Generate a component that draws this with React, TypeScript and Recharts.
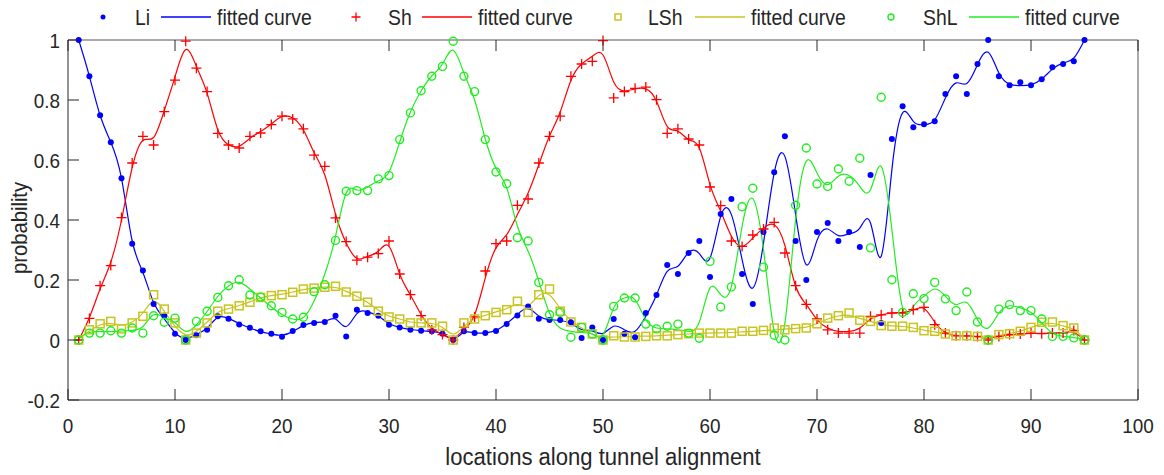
import { ComposedChart, Line, Scatter, XAxis, YAxis, Legend } from 'recharts'

// sampling positions along the tunnel (1..95)
const locations = Array.from({ length: 95 }, (_, i) => i + 1)

// observed probabilities per rock class
const li = [
  1.0, 0.879, 0.749, 0.659, 0.539, 0.321, 0.232, 0.12, 0.081, 0.021,
  0, 0.016, 0.034, 0.079, 0.071, 0.052, 0.041, 0.029, 0.021, 0.011,
  0.03, 0.05, 0.057, 0.06, 0.081, 0.012, 0.101, 0.09, 0.081, 0.051,
  0.042, 0.034, 0.031, 0.029, 0.021, 0, 0.029, 0.023, 0.023, 0.03,
  0.053, 0.082, 0.112, 0.071, 0.067, 0.067, 0.059, 0.007, 0.042, 0,
  0.07, 0.021, 0.009, 0.09, 0.15, 0.25, 0.22, 0.29, 0.33, 0.21,
  0.42, 0.47, 0.22, 0.12, 0.36, 0.559, 0.679, 0.33, 0.2, 0.36,
  0.39, 0.33, 0.36, 0.31, 0.55, 0.057, 0.67, 0.779, 0.709, 0.719,
  0.729, 0.82, 0.879, 0.82, 0.92, 1.0, 0.879, 0.849, 0.859, 0.849,
  0.869, 0.909, 0.92, 0.929, 1.0,
]
const sh = [
  0, 0.072, 0.181, 0.248, 0.408, 0.59, 0.679, 0.65, 0.761, 0.866,
  0.996, 0.906, 0.828, 0.689, 0.65, 0.64, 0.679, 0.69, 0.718, 0.746,
  0.737, 0.704, 0.616, 0.579, 0.407, 0.328, 0.266, 0.276, 0.288, 0.33,
  0.22, 0.151, 0.081, 0.034, 0.018, 0, 0.042, 0.077, 0.23, 0.321,
  0.33, 0.449, 0.47, 0.59, 0.679, 0.746, 0.879, 0.92, 0.929, 0.998,
  0.807, 0.828, 0.839, 0.843, 0.801, 0.689, 0.704, 0.67, 0.65, 0.51,
  0.448, 0.33, 0.312, 0.35, 0.37, 0.392, 0.29, 0.181, 0.119, 0.07,
  0.034, 0.023, 0.023, 0.023, 0.079, 0.084, 0.09, 0.09, 0.101, 0.109,
  0.051, 0.023, 0.014, 0.014, 0.012, 0, 0.012, 0.018, 0.02, 0.023,
  0.021, 0.023, 0.023, 0.032, 0,
]
const lsh = [
  0, 0.034, 0.054, 0.062, 0.037, 0.057, 0.079, 0.151, 0.103, 0.057,
  0, 0.023, 0.057, 0.096, 0.103, 0.114, 0.126, 0.142, 0.148, 0.151,
  0.159, 0.17, 0.173, 0.176, 0.179, 0.16, 0.146, 0.126, 0.096, 0.077,
  0.07, 0.057, 0.057, 0.057, 0.046, 0, 0.057, 0.07, 0.081, 0.092,
  0.101, 0.129, 0.092, 0.151, 0.17, 0.096, 0.06, 0.042, 0.02, 0,
  0.014, 0.01, 0.01, 0.012, 0.014, 0.014, 0.018, 0.021, 0.023, 0.023,
  0.023, 0.023, 0.029, 0.029, 0.032, 0.04, 0.034, 0.038, 0.04, 0.054,
  0.073, 0.081, 0.09, 0.066, 0.062, 0.048, 0.046, 0.046, 0.042, 0.031,
  0.029, 0.02, 0.014, 0.014, 0.012, 0, 0.018, 0.021, 0.029, 0.042,
  0.059, 0.06, 0.048, 0.04, 0,
]
const shl = [
  0, 0.023, 0.023, 0.031, 0.023, 0.04, 0.023, 0.081, 0.059, 0.073,
  0, 0.062, 0.096, 0.142, 0.181, 0.201, 0.15, 0.143, 0.114, 0.092,
  0.07, 0.076, 0.161, 0.184, 0.332, 0.496, 0.498, 0.498, 0.537, 0.548,
  0.668, 0.757, 0.831, 0.879, 0.912, 0.996, 0.879, 0.828, 0.668, 0.56,
  0.521, 0.341, 0.33, 0.192, 0.084, 0.092, 0.009, 0.042, 0.02, 0,
  0.112, 0.14, 0.14, 0.053, 0.037, 0.046, 0.053, 0.023, 0.006, 0.262,
  0.11, 0.177, 0.444, 0.506, 0.243, 0.016, 0, 0.449, 0.64, 0.52,
  0.512, 0.57, 0.529, 0.606, 0.307, 0.809, 0.201, 0.092, 0.154, 0.138,
  0.192, 0.137, 0.098, 0.16, 0.06, 0, 0.103, 0.118, 0.098, 0.098,
  0.07, 0.012, 0.012, 0.007, 0,
]

// smoothed curves at the same positions
const liFit = [
  1.0, 0.879, 0.749, 0.659, 0.539, 0.33, 0.225, 0.125, 0.07, 0.025,
  0.005, 0.018, 0.04, 0.075, 0.072, 0.055, 0.04, 0.028, 0.02, 0.016,
  0.028, 0.048, 0.058, 0.062, 0.07, 0.045, 0.088, 0.094, 0.08, 0.055,
  0.042, 0.035, 0.031, 0.028, 0.02, 0.004, 0.025, 0.024, 0.024, 0.032,
  0.055, 0.085, 0.105, 0.08, 0.068, 0.065, 0.055, 0.035, 0.03, 0.022,
  0.046, 0.034, 0.029, 0.079, 0.15, 0.229, 0.246, 0.292, 0.288, 0.273,
  0.412, 0.418, 0.268, 0.173, 0.323, 0.557, 0.612, 0.418, 0.251, 0.332,
  0.37, 0.348, 0.354, 0.373, 0.39, 0.279, 0.568, 0.757, 0.729, 0.718,
  0.734, 0.807, 0.857, 0.855, 0.918, 0.959, 0.89, 0.853, 0.848, 0.851,
  0.87, 0.903, 0.923, 0.94, 1.0,
]
const shFit = [
  0, 0.075, 0.17, 0.26, 0.4, 0.575, 0.665, 0.675, 0.765, 0.877,
  0.968, 0.912, 0.823, 0.701, 0.651, 0.646, 0.672, 0.695, 0.72, 0.745,
  0.74, 0.7, 0.625, 0.55, 0.42, 0.323, 0.272, 0.278, 0.296, 0.312,
  0.22, 0.15, 0.085, 0.04, 0.018, 0.007, 0.034, 0.084, 0.207, 0.307,
  0.351, 0.418, 0.49, 0.584, 0.68, 0.76, 0.865, 0.92, 0.946, 0.95,
  0.86, 0.83, 0.837, 0.837, 0.796, 0.712, 0.696, 0.668, 0.64, 0.518,
  0.429, 0.346, 0.312, 0.34, 0.373, 0.384, 0.315, 0.179, 0.118, 0.068,
  0.04, 0.029, 0.029, 0.04, 0.07, 0.084, 0.09, 0.092, 0.1, 0.105,
  0.06, 0.025, 0.015, 0.013, 0.01, 0.006, 0.012, 0.017, 0.02, 0.022,
  0.022, 0.023, 0.025, 0.025, 0,
]
const lshFit = [
  0.005, 0.03, 0.05, 0.055, 0.05, 0.06, 0.09, 0.129, 0.096, 0.046,
  0.018, 0.029, 0.06, 0.092, 0.105, 0.115, 0.127, 0.14, 0.148, 0.153,
  0.16, 0.168, 0.173, 0.176, 0.175, 0.162, 0.145, 0.125, 0.1, 0.08,
  0.07, 0.06, 0.057, 0.055, 0.042, 0.02, 0.045, 0.07, 0.082, 0.094,
  0.105, 0.118, 0.115, 0.148, 0.15, 0.105, 0.065, 0.04, 0.02, 0.01,
  0.01, 0.011, 0.012, 0.013, 0.014, 0.016, 0.018, 0.02, 0.022, 0.023,
  0.024, 0.025, 0.027, 0.029, 0.031, 0.034, 0.036, 0.039, 0.043, 0.055,
  0.07, 0.08, 0.082, 0.072, 0.062, 0.052, 0.047, 0.045, 0.04, 0.033,
  0.027, 0.02, 0.015, 0.013, 0.01, 0.008, 0.015, 0.022, 0.03, 0.042,
  0.052, 0.055, 0.047, 0.035, 0.005,
]
const shlFit = [
  0.005, 0.025, 0.028, 0.028, 0.03, 0.032, 0.045, 0.084, 0.075, 0.057,
  0.029, 0.05, 0.095, 0.145, 0.18, 0.192, 0.17, 0.14, 0.11, 0.085,
  0.07, 0.075, 0.13, 0.22, 0.345, 0.49, 0.5, 0.51, 0.53, 0.56,
  0.66, 0.76, 0.83, 0.88, 0.92, 0.966, 0.89, 0.8, 0.67, 0.573,
  0.507, 0.379, 0.296, 0.196, 0.09, 0.04, 0.029, 0.025, 0.02, 0.018,
  0.107, 0.14, 0.134, 0.068, 0.04, 0.037, 0.034, 0.029, 0.06, 0.173,
  0.151, 0.179, 0.379, 0.471, 0.301, 0.029, 0.057, 0.401, 0.596, 0.557,
  0.518, 0.546, 0.548, 0.512, 0.501, 0.579, 0.368, 0.107, 0.112, 0.146,
  0.17, 0.146, 0.118, 0.125, 0.068, 0.04, 0.09, 0.114, 0.107, 0.092,
  0.057, 0.023, 0.012, 0.008, 0.002,
]

const xTicks = [0, 10, 20, 30, 40, 50, 60, 70, 80, 90, 100]
const yTicks = [-0.2, 0, 0.2, 0.4, 0.6, 0.8, 1]

const data = locations.map((x, i) => ({
  x,
  li: li[i], sh: sh[i], lsh: lsh[i], shl: shl[i],
  liFit: liFit[i], shFit: shFit[i], lshFit: lshFit[i], shlFit: shlFit[i],
}))

const BLUE = '#0000ff'
const RED = '#ff0000'
const OLIVE = '#c8c41e'
const GREEN = '#1fee1f'
const AXIS = '#262626'
const FONT = "'Liberation Sans', Arial, Helvetica, sans-serif"

// plot box in svg pixels
const BOX = { left: 68, top: 40, right: 1138, bottom: 400 }
const TICK = 11

function Txt(props: { x: number; y: number; size: number; sx?: number; anchor?: string; rotate?: number; children: any }) {
  const { x, y, size, sx = 0.9, anchor = 'start', rotate = 0, children } = props
  return (
    <text
      transform={`translate(${x},${y}) rotate(${rotate}) scale(${sx},1)`}
      fontSize={size}
      fontFamily={FONT}
      fill={AXIS}
      textAnchor={anchor}
    >
      {children}
    </text>
  )
}

const BottomTick = (p: any) => (
  <g>
    <line x1={p.x} x2={p.x} y1={BOX.bottom} y2={BOX.bottom - TICK} stroke={AXIS} />
    <Txt x={p.x} y={433} size={21} anchor="middle">{p.payload.value}</Txt>
  </g>
)
const TopTick = (p: any) => (
  <line x1={p.x} x2={p.x} y1={BOX.top} y2={BOX.top + TICK} stroke={AXIS} />
)
const LeftTick = (p: any) => (
  <g>
    <line x1={BOX.left} x2={BOX.left + TICK} y1={p.y} y2={p.y} stroke={AXIS} />
    <Txt x={BOX.left - 8} y={p.y + 7.5} size={21} anchor="end">{String(p.payload.value)}</Txt>
  </g>
)
const RightTick = (p: any) => (
  <line x1={BOX.right} x2={BOX.right - TICK} y1={p.y} y2={p.y} stroke={AXIS} />
)

// marker shapes
const Dot = (p: any) => <circle cx={p.cx} cy={p.cy} r={3} fill={BLUE} />
const Plus = (p: any) => (
  <path d={`M${p.cx - 5},${p.cy}h10M${p.cx},${p.cy - 5}v10`} stroke={RED} strokeWidth={1.3} />
)
const Square = (p: any) => (
  <rect x={p.cx - 4} y={p.cy - 4} width={8} height={8} fill="none" stroke={OLIVE} strokeWidth={1.5} />
)
const Ring = (p: any) => (
  <circle cx={p.cx} cy={p.cy} r={4} fill="none" stroke={GREEN} strokeWidth={1.4} />
)

function LegendRow() {
  const groups = [
    { name: 'Li', color: BLUE, mark: <circle cx={103} cy={17} r={2.5} fill={BLUE} />, nx: 135, lx: 161, fx: 217 },
    { name: 'Sh', color: RED, mark: <path d="M351.5,17h9M356,12.5v9" stroke={RED} strokeWidth={1.3} />, nx: 388, lx: 422, fx: 478 },
    { name: 'LSh', color: OLIVE, mark: <rect x={615} y={14} width={6} height={6} fill="none" stroke={OLIVE} strokeWidth={1.5} />, nx: 648, lx: 695, fx: 751 },
    { name: 'ShL', color: GREEN, mark: <circle cx={891} cy={17} r={3} fill="none" stroke={GREEN} strokeWidth={1.4} />, nx: 923, lx: 969, fx: 1025 },
  ]
  return (
    <svg width={1164} height={36} style={{ display: 'block' }}>
      {groups.map((g) => (
        <g key={g.name}>
          {g.mark}
          <Txt x={g.nx} y={25} size={22} sx={0.88}>{g.name}</Txt>
          <line x1={g.lx} x2={g.lx + 50} y1={17} y2={17} stroke={g.color} strokeWidth={1.3} />
          <Txt x={g.fx} y={25} size={22} sx={0.88}>fitted curve</Txt>
        </g>
      ))}
    </svg>
  )
}

export default function App() {
  return (
    <div style={{ position: 'fixed', top: 0, left: 0, width: 1164, height: 475, background: '#fff' }}>
      <ComposedChart width={1164} height={475} data={data} margin={{ top: 0, right: 0, bottom: 0, left: 0 }}>
        <XAxis
          dataKey="x"
          type="number"
          domain={[0, 100]}
          ticks={xTicks}
          height={75}
          axisLine={{ stroke: AXIS }}
          tickLine={false}
          tick={BottomTick}
          interval={0}
          label={() => <Txt x={603} y={465} size={23} sx={0.96} anchor="middle">locations along tunnel alignment</Txt>}
        />
        <XAxis
          xAxisId="top"
          orientation="top"
          dataKey="x"
          type="number"
          domain={[0, 100]}
          ticks={xTicks}
          height={40}
          axisLine={{ stroke: '#555' }}
          tickLine={false}
          tick={TopTick}
          interval={0}
        />
        <YAxis
          type="number"
          domain={[-0.2, 1]}
          ticks={yTicks}
          width={68}
          axisLine={{ stroke: AXIS }}
          tickLine={false}
          tick={LeftTick}
          interval={0}
          label={() => <Txt x={27} y={228} size={22} sx={0.92} rotate={-90} anchor="middle">probability</Txt>}
        />
        <YAxis
          yAxisId="right"
          orientation="right"
          type="number"
          domain={[-0.2, 1]}
          ticks={yTicks}
          width={26}
          axisLine={{ stroke: '#555' }}
          tickLine={false}
          tick={RightTick}
          interval={0}
        />
        <Legend
          layout="horizontal"
          verticalAlign="middle"
          align="center"
          wrapperStyle={{ top: 0, left: 0, width: 1164, height: 36 }}
          content={() => <LegendRow />}
        />
        <Scatter dataKey="li" shape={Dot} isAnimationActive={false} />
        <Line dataKey="liFit" type="natural" stroke={BLUE} strokeWidth={1.2} dot={false} isAnimationActive={false} />
        <Scatter dataKey="sh" shape={Plus} isAnimationActive={false} />
        <Line dataKey="shFit" type="natural" stroke={RED} strokeWidth={1.2} dot={false} isAnimationActive={false} />
        <Scatter dataKey="lsh" shape={Square} isAnimationActive={false} />
        <Line dataKey="lshFit" type="natural" stroke={OLIVE} strokeWidth={1.2} dot={false} isAnimationActive={false} />
        <Scatter dataKey="shl" shape={Ring} isAnimationActive={false} />
        <Line dataKey="shlFit" type="natural" stroke={GREEN} strokeWidth={1.2} dot={false} isAnimationActive={false} />
      </ComposedChart>
    </div>
  )
}
